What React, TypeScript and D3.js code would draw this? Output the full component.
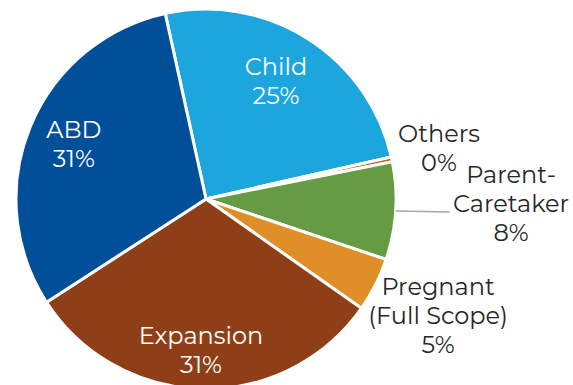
import React from "react";
import * as d3 from "d3";

const categories = ["Child", "Others", "Parent-Caretaker", "Pregnant (Full Scope)", "Expansion", "ABD"];
const values = [24.9, 0.4, 8.3, 4.6, 31.1, 30.7];
const labelLines = [
  ["Child", "25%"],
  ["Others", "0%"],
  ["Parent-", "Caretaker", "8%"],
  ["Pregnant", "(Full Scope)", "5%"],
  ["Expansion", "31%"],
  ["ABD", "31%"],
];
const colors = ["#1DA6DE", "#D9531E", "#659C43", "#E08E28", "#8F3F17", "#004F98"];

const W = 573, H = 385;
const cx = 206, cy = 199, R = 190;
const startDeg = -12.4;
const labelLayout = [
  { rf: 0.717, da: -1.5, inside: true },
  { rf: 1.254, da: 0, inside: false },
  { rf: 1.606, da: -2.5, inside: false },
  { rf: 1.37, da: 0.1, inside: false },
  { rf: 0.798, da: 0.8, inside: true },
  { rf: 0.752, da: 0, inside: true },
];

export default function App() {
  const pie = d3.pie<number>().sort(null).value((d) => d)
    .startAngle((startDeg * Math.PI) / 180)
    .endAngle((startDeg * Math.PI) / 180 + 2 * Math.PI);
  const arcs = pie(values);
  const arc = d3.arc<d3.PieArcDatum<number>>().innerRadius(0).outerRadius(R);
  const lineH = 29;

  return (
    <svg width={W} height={H} style={{ position: "absolute", left: 0, top: 0 }}>
      <g transform={`translate(${cx},${cy})`}>
        {arcs.map((a, i) => (
          <path key={i} d={arc(a) || ""} fill={colors[i]} stroke="#fff" strokeWidth={3} strokeLinejoin="round" />
        ))}
        {(() => {
          const a = arcs[2];
          const mid = (a.startAngle + a.endAngle) / 2;
          const x0 = Math.sin(mid) * R;
          const y0 = -Math.cos(mid) * R;
          return <line x1={x0} y1={y0} x2={x0 + 54} y2={y0 + 1} stroke="#A6A6A6" strokeWidth={1.5} />;
        })()}
        {arcs.map((a, i) => {
          const L = labelLayout[i];
          const mid = (a.startAngle + a.endAngle) / 2 + (L.da * Math.PI) / 180;
          const r = R * L.rf;
          const x = Math.sin(mid) * r;
          const y = -Math.cos(mid) * r;
          const lines = labelLines[i];
          const y0 = y - ((lines.length - 1) * lineH) / 2 + 7.5;
          return (
            <text key={i} textAnchor="middle" fontFamily="Montserrat, 'Open Sans', sans-serif" fontSize={24}
              fill={L.inside ? "#FFFFFF" : "#262626"}>
              {lines.map((t, j) => (
                <tspan key={j} x={x} y={y0 + j * lineH}>{t}</tspan>
              ))}
            </text>
          );
        })}
      </g>
    </svg>
  );
}
